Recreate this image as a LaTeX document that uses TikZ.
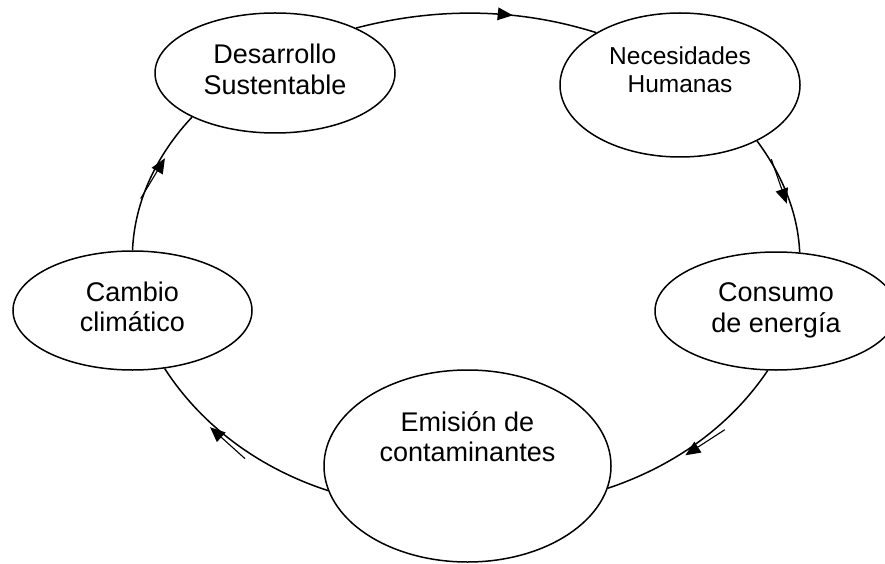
\documentclass[tikz,border=0pt]{standalone}
\usepackage{fontspec}
\setmainfont{Liberation Sans}
\usetikzlibrary{shapes.geometric,decorations.markings}
\newcommand{\lifttext}[2]{\raisebox{0pt}[\height][\dimexpr\depth+#1\relax]{\begin{tabular}{@{}c@{}}#2\end{tabular}}}
\begin{document}
\begin{tikzpicture}[x=1pt,y=1pt,
  ell/.style={draw, ellipse, line width=1.5pt, inner sep=0pt, font=\fontsize{27}{30.5}\selectfont},
  conn/.style={line width=1.5pt, looseness=0.88},
  tipat/.style={postaction={decorate}, decoration={markings, mark=at position #1 with {\fill (1pt,0pt) -- (-14pt,6.5pt) -- (-14pt,-6.5pt) -- cycle;}}},
  sidetip/.style 2 args={postaction={decorate}, decoration={markings, mark=at position #1 with {\fill (1pt,#2) -- (-14pt,{#2+6.5pt}) -- (-14pt,{#2-6.5pt}) -- cycle; \draw[line width=1.1pt] (-46pt,#2) -- (-8pt,#2);}}}
]
\useasboundingbox (0,0) rectangle (885,563);
\clip (0,0) rectangle (885,563);
\node[ell, minimum width=240pt, minimum height=120pt] (D) at (275,490) {\lifttext{0pt}{Desarrollo\\Sustentable}};
\node[ell, minimum width=240pt, minimum height=144pt, font=\fontsize{24.5}{28}\selectfont] (N) at (680,478) {\lifttext{24pt}{Necesidades\\Humanas}};
\node[ell, minimum width=242pt, minimum height=118pt] (Co) at (776,252) {\lifttext{0pt}{Consumo\\de energía}};
\node[ell, minimum width=287pt, minimum height=192pt] (E) at (467.5,97) {\lifttext{51pt}{Emisión de\\contaminantes}};
\node[ell, minimum width=239pt, minimum height=119pt] (Ca) at (132.5,252.5) {\lifttext{0pt}{Cambio\\climático}};
\draw[conn, tipat=0.645] (D.29) to[out=14.6, in=162.5] (N.148);
\draw[conn, sidetip={0.57}{-3.5pt}] (N.-36.5) to[out=-53.5, in=92.5] (Co.68.7);
\draw[conn, sidetip={0.58}{3.5pt}] (Co.-98) to[out=-124, in=18.5] (E.-9.8);
\draw[conn, sidetip={0.64}{3.5pt}] (E.190.7) to[out=162, in=-57.1] (Ca.-61.8);
\draw[conn, sidetip={0.66}{-3.5pt}] (Ca.90) to[out=87.5, in=226.7] (D.208.8);
\end{tikzpicture}
\end{document}
